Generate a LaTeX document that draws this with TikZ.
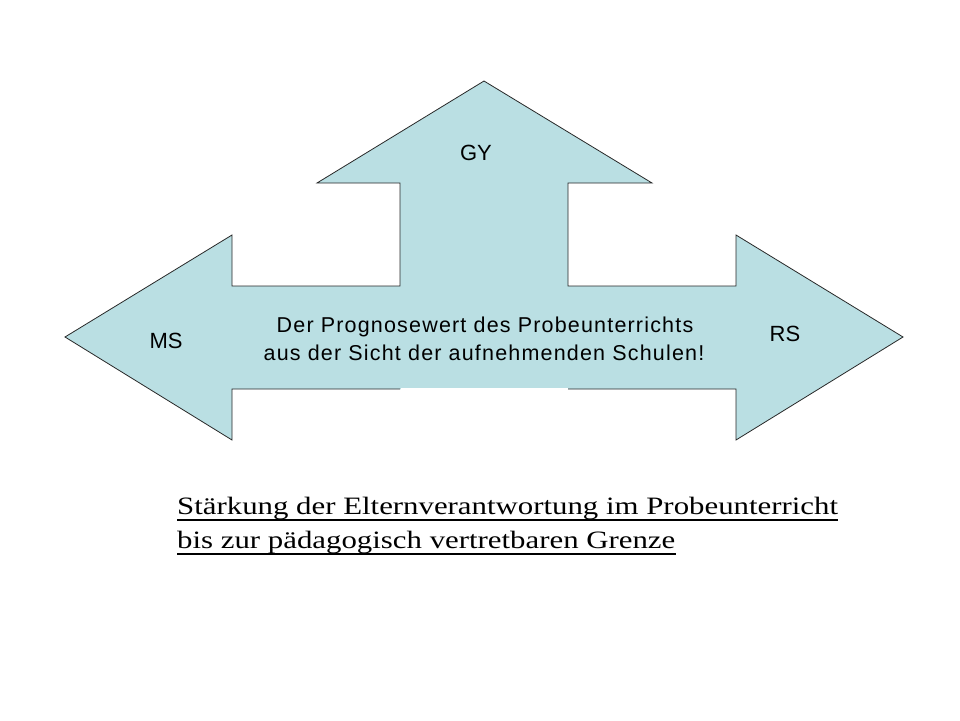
\documentclass[tikz,border=0pt]{standalone}
\usepackage{fontspec}
\setmainfont{Liberation Serif}
\setsansfont{Liberation Sans}
\usepackage{tikz}
\usetikzlibrary{calc}
\definecolor{arrowfill}{RGB}{186,223,227}
\definecolor{edgegray}{RGB}{40,40,40}

\begin{document}
\begin{tikzpicture}[x=1pt,y=-1pt]
\tikzstyle{every node}=[font=\sffamily\fontsize{22}{26}\selectfont,inner sep=0pt]
\tikzstyle{goal}=[anchor=center]
\tikzstyle{prog}=[anchor=base,font=\sffamily\fontsize{21.5}{26}\selectfont\addfontfeature{LetterSpace=5.5}]
\tikzstyle{claim}=[font=\rmfamily\fontsize{25}{30}\selectfont,anchor=base west]
\useasboundingbox (0,0) rectangle (960,720);
% corners of the arrow
\coordinate (L) at (65,337);
\coordinate (R) at (903,337);
\coordinate (T) at (484,81);
\fill[arrowfill] (400,389) -- (232,389) -- (232,440) -- (L) -- (232,235) -- (232,286)
  -- (400,286) -- (400,183) -- (317,183) -- (T) -- (652,183) -- (568,183) -- (568,286)
  -- (736,286) -- (736,235) -- (R) -- (736,440) -- (736,389) -- (568,389) -- cycle;
\draw[edgegray,line width=0.8pt,line join=miter] (400,389) -- (232,389) -- (232,440) -- (L)
  -- (232,235) -- (232,286) -- (400,286) -- (400,183) -- (317,183) -- (T) -- (652,183)
  -- (568,183) -- (568,286) -- (736,286) -- (736,235) -- (R) -- (736,440) -- (736,389)
  -- (568,389);
\draw[white,line width=1.5pt] (400.5,389) -- (567.5,389);
% labels
\node[goal] (gy) at (476,153) {GY};
\node[goal] (ms) at (166,341) {MS};
\node[goal] (rs) at (785,334) {RS};
\node[prog] (p1) at (485,332) {Der Prognosewert des Probeunterrichts};
\node[prog] (p2) at (484,360) {aus der Sicht der aufnehmenden Schulen!};
% text below
\node[claim] (c1) at (177,514) {\scalebox{1.233}[1]{Stärkung der Elternverantwortung im Probeunterricht}};
\node[claim] (c2) at (177,548) {\scalebox{1.233}[1]{bis zur pädagogisch vertretbaren Grenze}};
\draw[line width=2pt] ($(c1.base west)+(0,6)$) -- ($(c1.base east)+(0,6)$);
\draw[line width=2pt] ($(c2.base west)+(0,6)$) -- ($(c2.base east)+(0,6)$);
\end{tikzpicture}
\end{document}
